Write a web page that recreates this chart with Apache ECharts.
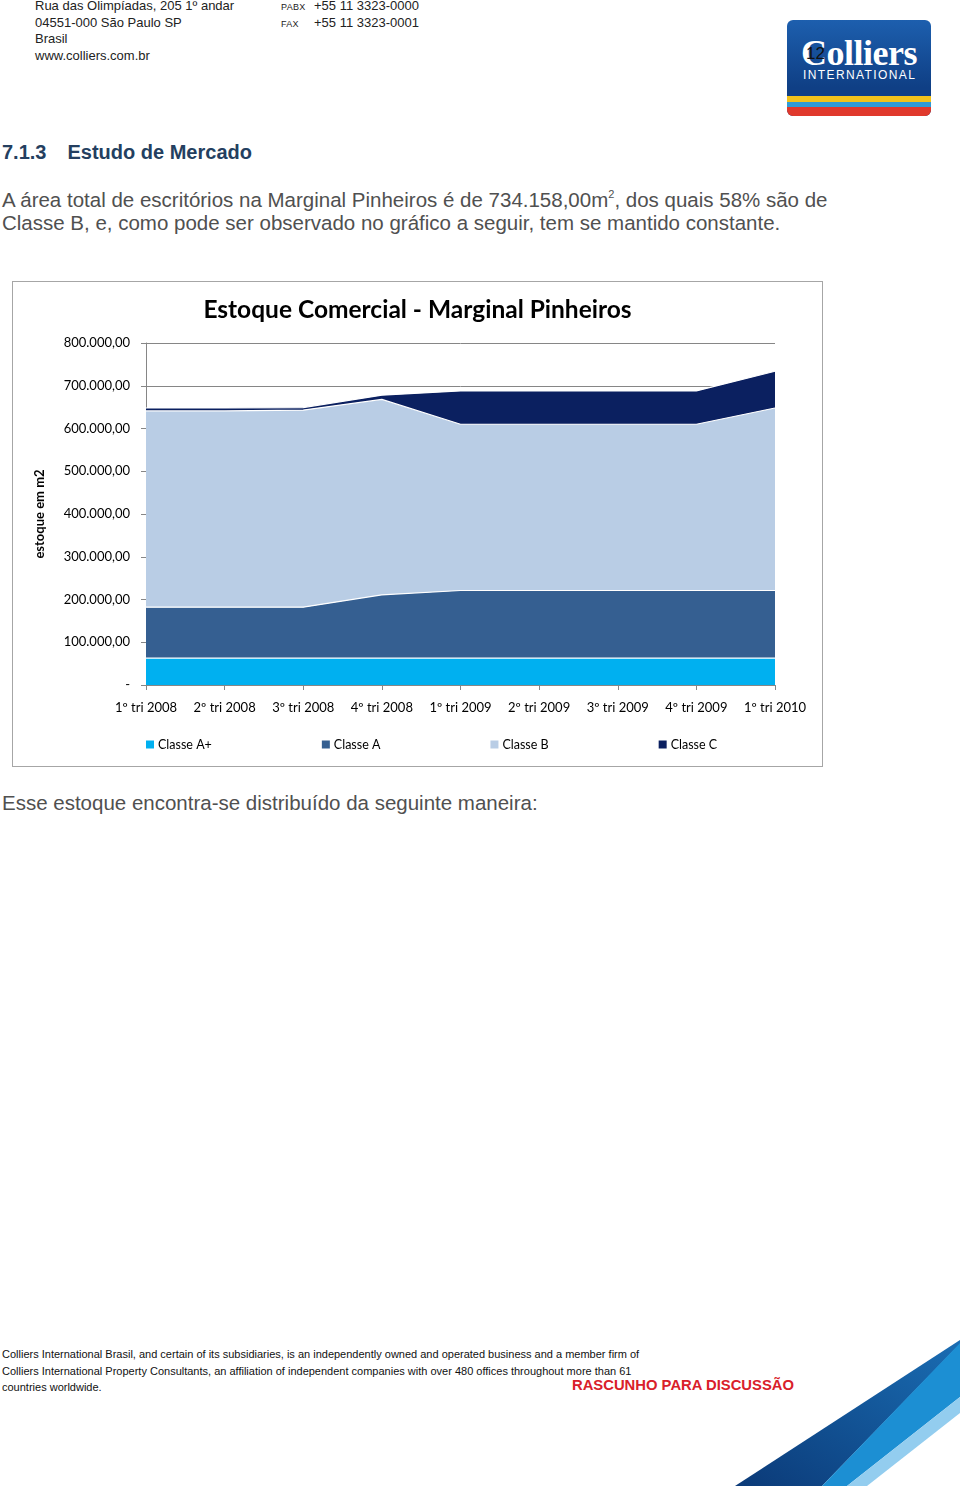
<!DOCTYPE html>
<html><head><meta charset="utf-8">
<script src="https://cdn.jsdelivr.net/npm/echarts@6/dist/echarts.min.js"></script>
<style>
html,body{margin:0;padding:0;background:#fff;}
body{width:960px;height:1486px;position:relative;overflow:hidden;font-family:"Liberation Sans",Arial,sans-serif;}
.abs{position:absolute;white-space:nowrap;}
.hdr{font-size:13px;color:#222;line-height:16.5px;}
.sm{font-size:9px;letter-spacing:0.3px;}
#chart{position:absolute;left:12px;top:281px;width:809px;height:484px;border:1px solid #a6a6a6;}
.para{font-size:20.5px;color:#505050;line-height:23px;}
.foot{font-size:11px;color:#111;line-height:16.5px;}
</style></head><body>
<div class="abs hdr" style="left:35px;top:-2px;">Rua das Olimpíadas, 205 1º andar<br>04551-000 São Paulo SP<br>Brasil<br>www.colliers.com.br</div>
<div class="abs hdr" style="left:281px;top:-2px;"><span class="sm">PABX</span></div>
<div class="abs hdr" style="left:281px;top:14.5px;"><span class="sm">FAX</span></div>
<div class="abs hdr" style="left:314px;top:-2px;">+55 11 3323-0000<br>+55 11 3323-0001</div>

<div class="abs" style="left:787px;top:20px;width:144px;height:96px;border-radius:6px;overflow:hidden;background:linear-gradient(180deg,#1d5fae 0%,#0f3f85 70%);">
  <div class="abs" style="left:0;top:76px;width:144px;height:6px;background:#f2c21b;"></div>
  <div class="abs" style="left:0;top:82px;width:144px;height:5px;background:#2f9bd6;"></div>
  <div class="abs" style="left:0;top:87px;width:144px;height:9px;background:#e0392c;"></div>
  <div class="abs" style="left:14px;top:12px;font-family:'Liberation Serif','DejaVu Serif',serif;font-size:36px;font-weight:bold;color:#fff;letter-spacing:-0.5px;">Colliers</div>
  <div class="abs" style="left:16px;top:48px;font-family:'Liberation Sans',Arial,sans-serif;font-size:12px;color:#fff;letter-spacing:1.4px;">INTERNATIONAL</div>
</div>
<div class="abs" style="left:806px;top:44px;font-size:17px;color:#111;">12</div>

<div class="abs" style="left:2px;top:141px;font-size:20px;font-weight:bold;color:#243f60;">7.1.3<span style="display:inline-block;width:21px;"></span>Estudo de Mercado</div>
<div class="abs para" style="left:2px;top:188px;">A área total de escritórios na Marginal Pinheiros é de 734.158,00m<sup style="font-size:11px;vertical-align:9px;line-height:0">2</sup>, dos quais 58% são de<br>Classe B, e, como pode ser observado no gráfico a seguir, tem se mantido constante.</div>

<div id="chart"></div>

<div class="abs para" style="left:2px;top:791px;">Esse estoque encontra-se distribuído da seguinte maneira:</div>

<div class="abs foot" style="left:2px;top:1346px;">Colliers International Brasil, and certain of its subsidiaries, is an independently owned and operated business and a member firm of<br>Colliers International Property Consultants, an affiliation of independent companies with over 480 offices throughout more than 61<br>countries worldwide.</div>
<div class="abs" style="left:572px;top:1377px;font-size:14.8px;font-weight:bold;color:#d9202a;">RASCUNHO PARA DISCUSSÃO</div>

<svg class="abs" style="left:0;top:0;" width="960" height="1486">
  <defs>
    <linearGradient id="dk" x1="0" y1="1" x2="1" y2="0">
      <stop offset="0" stop-color="#0b3a78"/>
      <stop offset="1" stop-color="#1a6db3"/>
    </linearGradient>
  </defs>
  <polygon points="735,1486 960,1340 960,1344 822,1486" fill="url(#dk)"/>
  <polygon points="822,1486 960,1343 960,1397 847,1486" fill="#1c8fd3"/>
  <polygon points="847,1486 960,1397 960,1413 867,1486" fill="#93cdef"/>
</svg>

<script>
const categories = ["1º tri 2008","2º tri 2008","3º tri 2008","4º tri 2008","1º tri 2009","2º tri 2009","3º tri 2009","4º tri 2009","1º tri 2010"];
const classeAPlus = [63000,63000,63000,63000,63000,63000,63000,63000,63000];
const classeA = [119000,119000,119000,148000,158000,158000,158000,158000,158000];
const classeB = [459000,459000,461000,457000,389000,389000,389000,389000,427000];
const classeC = [7000,7000,6000,10000,78000,78000,78000,78000,86000];

const seriesDefs = [
  {name:"Classe A+", data:classeAPlus, color:"#00b0f0"},
  {name:"Classe A", data:classeA, color:"#355f91"},
  {name:"Classe B", data:classeB, color:"#b9cde5"},
  {name:"Classe C", data:classeC, color:"#0b2060"}
];

function fmt(v){
  if(v===0) return "-";
  const s = Math.round(v).toString().replace(/\B(?=(\d{3})+(?!\d))/g,".");
  return s + ",00";
}

const chart = echarts.init(document.getElementById('chart'), null, {renderer:'canvas'});
chart.setOption({
  animation:false,
  textStyle:{fontFamily:"Lato"},
  title:{text:"Estoque Comercial - Marginal Pinheiros", left:"center", top:11,
    textStyle:{fontFamily:"Lato", fontWeight:"bold", fontSize:24.5, color:"#000"}},
  legend:{left:128, top:451, itemWidth:8, itemHeight:8, itemGap:110, icon:"rect",
    textStyle:{fontFamily:"Lato", fontSize:12.5, color:"#000", padding:[0,0,0,-1]},
    data:seriesDefs.map(s=>s.name)},
  grid:{left:133, right:47, top:61, bottom:81, containLabel:false},
  xAxis:{type:"category", data:categories, boundaryGap:false,
    axisLine:{lineStyle:{color:"#868686"}},
    axisTick:{show:true, length:5, lineStyle:{color:"#868686"}, alignWithLabel:true},
    axisLabel:{fontFamily:"Lato", fontSize:13, color:"#000", margin:16, interval:0}},
  yAxis:{type:"value", min:0, max:800000, interval:100000,
    name:"estoque em m2", nameLocation:"middle", nameGap:100, nameRotate:90,
    nameTextStyle:{fontFamily:"Lato", fontWeight:"bold", fontSize:13, color:"#000"},
    axisLine:{show:true, lineStyle:{color:"#868686"}},
    axisTick:{show:true, length:5, lineStyle:{color:"#868686"}},
    splitLine:{show:true, lineStyle:{color:"#868686", width:1}},
    axisLabel:{fontFamily:"Lato", fontSize:13, color:"#000", margin:16, formatter:fmt}},
  series:seriesDefs.map(s=>({
    name:s.name, type:"line", stack:"total", data:s.data, symbol:"none",
    itemStyle:{color:s.color},
    lineStyle:{color:"#ffffff", width:1.2},
    areaStyle:{color:s.color, opacity:1}
  }))
});
</script>
</body></html>
